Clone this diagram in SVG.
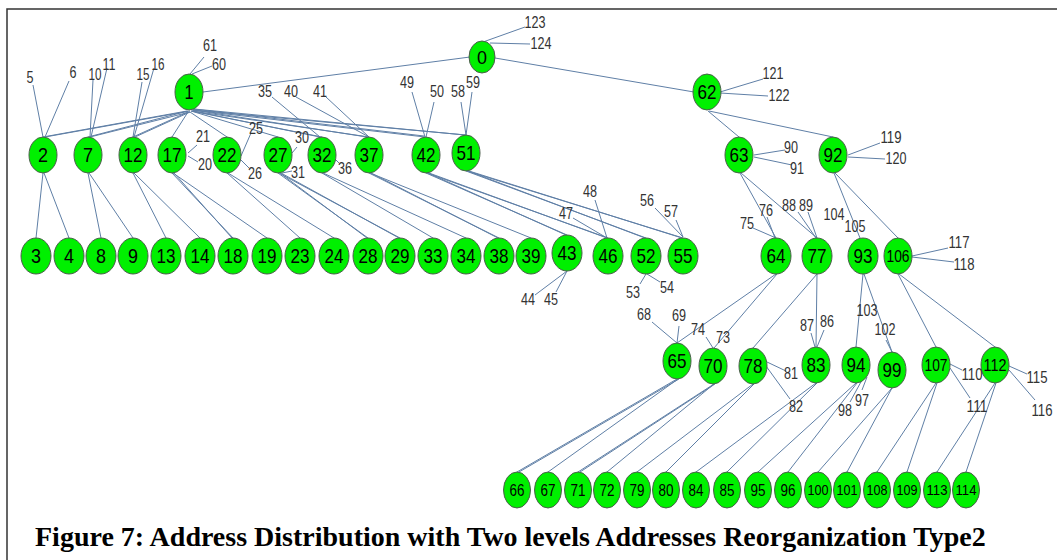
<svg xmlns="http://www.w3.org/2000/svg" width="1057" height="560" viewBox="0 0 1057 560">
<style>
.n ellipse{fill:#00f000;stroke:#4d5d4d;stroke-width:1}
.n text{font-family:"Liberation Sans",Arial,sans-serif;font-size:21px;text-anchor:middle;fill:#000}
.b text{font-size:17px}
.b text.w{font-size:14px}
.e path{stroke:#5f7fa6;stroke-width:1;fill:none}
.l text{font-family:"Liberation Sans",Arial,sans-serif;font-size:16px;text-anchor:middle;fill:#333}
.cap{font-family:"Liberation Serif","Times New Roman",serif;font-weight:bold;font-size:28px;fill:#000}
</style>
<rect x="0" y="0" width="1057" height="560" fill="#fff"/>
<path d="M7,560 V9 H1057" fill="none" stroke="#333" stroke-width="1.5"/>
<g class="e" id="connectors">
<path d="M470,57 L203,92 M495,58 L694,92 M483,42 L525,27 M490,43 L530,44"/>
<path d="M190,74 L204,57 M192,74 L212,66"/>
<path d="M187,111 L43,137 M190,111 L45,137 M188,111 L88,137 M190,112 L90,137 M188,112 L133,137 M190,112 L135,137 M188,112 L172,137 M190,112 L227,137 M191,111 L278,137 M191,111 L322,137 M193,111 L320,137 M192,111 L369,137 M193,110 L367,137 M192,110 L425,137 M193,109 L424,136 M193,110 L466,135 M194,109 L465,135"/>
<path d="M33,85 L43,137 M69,81 L45,137 M93,80 L90,137 M107,68 L91,137 M142,82 L133,137 M154,68 L134,137 M197,145 L188,153 M188,156 L198,162 M251,133 L241,156 M241,160 L249,168 M297,147 L292,153 M282,173 L292,171 M272,97 L320,137 M336,160 L339,163 M296,97 L369,137 M326,97 L369,137 M412,92 L425,137 M434,102 L426,137 M461,102 L466,135 M472,92 L466,135"/>
<path d="M43,173 L36,238 M44,173 L69,238 M88,173 L101,238 M89,173 L133,238 M133,173 L166,238 M134,173 L200,238 M172,173 L233,238 M174,173 L232,238 M173,173 L267,238 M227,173 L300,238 M228,173 L334,238 M278,173 L368,238 M280,173 L367,238 M279,173 L400,238 M281,173 L399,238 M322,173 L433,238 M323,173 L466,238 M369,173 L499,238 M371,173 L498,238 M370,173 L531,238 M426,173 L567,235 M428,173 L566,235 M427,173 L608,238 M429,173 L607,238 M466,171 L646,238 M468,171 L645,238 M467,171 L683,238 M469,171 L682,238"/>
<path d="M573,218 L607,238 M595,200 L607,238 M655,208 L683,237 M676,220 L683,237 M646,274 L640,284 M647,274 L660,282 M567,271 L535,295 M567,271 L556,292"/>
<path d="M720,92 L763,79 M720,93 L768,96 M708,111 L739,137 M709,111 L833,137 M754,155 L785,150 M754,157 L792,165 M848,155 L880,143 M848,157 L885,159"/>
<path d="M740,173 L776,238 M741,173 L817,238 M753,228 L776,238 M767,217 L775,238 M798,212 L816,238 M808,212 L817,238 M834,173 L860,238 M835,173 L898,238 M912,256 L948,248 M912,257 L954,262"/>
<path d="M776,274 L677,343 M777,274 L714,348 M652,322 L677,343 M679,326 L677,343 M706,337 L713,348 M817,274 L753,348 M817,274 L816,347 M811,333 L815,347 M824,330 L817,347 M863,274 L856,347 M864,274 L892,352 M886,340 L892,352 M898,274 L936,347 M899,274 L995,347"/>
<path d="M767,362 L786,371 M766,366 L790,399 M867,377 L862,390 M862,380 L850,402 M950,364 L962,370 M950,368 L970,398 M1009,366 L1027,374 M1009,370 L1035,400"/>
<path d="M677,379 L517,472 M679,379 L519,472 M678,379 L548,472 M714,384 L578,472 M715,384 L580,472 M714,384 L607,472 M753,384 L637,472 M754,384 L666,472 M816,383 L696,472 M817,383 L727,472 M856,383 L758,472 M857,383 L788,472 M892,388 L818,472 M892,388 L847,472 M936,383 L877,472 M937,383 L907,472 M995,383 L937,472 M996,383 L966,472"/>
</g>
<g class="n" id="n0"><ellipse cx="482" cy="57" rx="13" ry="16"/><text x="482" y="64" textLength="10" lengthAdjust="spacingAndGlyphs" style="font-size:19px">0</text></g>
<g class="n" id="n1"><ellipse cx="189" cy="92" rx="14" ry="18"/><text x="189" y="99" textLength="9" lengthAdjust="spacingAndGlyphs">1</text></g>
<g class="n" id="n62"><ellipse cx="707" cy="92" rx="14" ry="18"/><text x="707" y="99" textLength="19" lengthAdjust="spacingAndGlyphs">62</text></g>
<g class="n" id="n2"><ellipse cx="43" cy="155" rx="14" ry="18"/><text x="43" y="162" textLength="10" lengthAdjust="spacingAndGlyphs">2</text></g>
<g class="n" id="n7"><ellipse cx="88" cy="155" rx="14" ry="18"/><text x="88" y="162" textLength="10" lengthAdjust="spacingAndGlyphs">7</text></g>
<g class="n" id="n12"><ellipse cx="133" cy="155" rx="14" ry="18"/><text x="133" y="162" textLength="19" lengthAdjust="spacingAndGlyphs">12</text></g>
<g class="n" id="n17"><ellipse cx="172" cy="155" rx="14" ry="18"/><text x="172" y="162" textLength="19" lengthAdjust="spacingAndGlyphs">17</text></g>
<g class="n" id="n22"><ellipse cx="227" cy="155" rx="14" ry="18"/><text x="227" y="162" textLength="19" lengthAdjust="spacingAndGlyphs">22</text></g>
<g class="n" id="n27"><ellipse cx="278" cy="155" rx="14" ry="18"/><text x="278" y="162" textLength="19" lengthAdjust="spacingAndGlyphs">27</text></g>
<g class="n" id="n32"><ellipse cx="322" cy="155" rx="14" ry="18"/><text x="322" y="162" textLength="19" lengthAdjust="spacingAndGlyphs">32</text></g>
<g class="n" id="n37"><ellipse cx="369" cy="155" rx="14" ry="18"/><text x="369" y="162" textLength="19" lengthAdjust="spacingAndGlyphs">37</text></g>
<g class="n" id="n42"><ellipse cx="426" cy="155" rx="14" ry="18"/><text x="426" y="162" textLength="19" lengthAdjust="spacingAndGlyphs">42</text></g>
<g class="n" id="n51"><ellipse cx="466" cy="153" rx="14" ry="18"/><text x="466" y="160" textLength="19" lengthAdjust="spacingAndGlyphs">51</text></g>
<g class="n" id="n63"><ellipse cx="739" cy="155" rx="14" ry="18"/><text x="739" y="162" textLength="19" lengthAdjust="spacingAndGlyphs">63</text></g>
<g class="n" id="n92"><ellipse cx="833" cy="155" rx="14" ry="18"/><text x="833" y="162" textLength="19" lengthAdjust="spacingAndGlyphs">92</text></g>
<g class="n" id="n3"><ellipse cx="36" cy="256" rx="15" ry="18"/><text x="36" y="263" textLength="10" lengthAdjust="spacingAndGlyphs">3</text></g>
<g class="n" id="n4"><ellipse cx="69" cy="256" rx="15" ry="18"/><text x="69" y="263" textLength="10" lengthAdjust="spacingAndGlyphs">4</text></g>
<g class="n" id="n8"><ellipse cx="101" cy="256" rx="15" ry="18"/><text x="101" y="263" textLength="10" lengthAdjust="spacingAndGlyphs">8</text></g>
<g class="n" id="n9"><ellipse cx="133" cy="256" rx="15" ry="18"/><text x="133" y="263" textLength="10" lengthAdjust="spacingAndGlyphs">9</text></g>
<g class="n" id="n13"><ellipse cx="166" cy="256" rx="15" ry="18"/><text x="166" y="263" textLength="19" lengthAdjust="spacingAndGlyphs">13</text></g>
<g class="n" id="n14"><ellipse cx="200" cy="256" rx="15" ry="18"/><text x="200" y="263" textLength="19" lengthAdjust="spacingAndGlyphs">14</text></g>
<g class="n" id="n18"><ellipse cx="233" cy="256" rx="15" ry="18"/><text x="233" y="263" textLength="19" lengthAdjust="spacingAndGlyphs">18</text></g>
<g class="n" id="n19"><ellipse cx="267" cy="256" rx="15" ry="18"/><text x="267" y="263" textLength="19" lengthAdjust="spacingAndGlyphs">19</text></g>
<g class="n" id="n23"><ellipse cx="300" cy="256" rx="15" ry="18"/><text x="300" y="263" textLength="19" lengthAdjust="spacingAndGlyphs">23</text></g>
<g class="n" id="n24"><ellipse cx="334" cy="256" rx="15" ry="18"/><text x="334" y="263" textLength="19" lengthAdjust="spacingAndGlyphs">24</text></g>
<g class="n" id="n28"><ellipse cx="368" cy="256" rx="15" ry="18"/><text x="368" y="263" textLength="19" lengthAdjust="spacingAndGlyphs">28</text></g>
<g class="n" id="n29"><ellipse cx="400" cy="256" rx="15" ry="18"/><text x="400" y="263" textLength="19" lengthAdjust="spacingAndGlyphs">29</text></g>
<g class="n" id="n33"><ellipse cx="433" cy="256" rx="15" ry="18"/><text x="433" y="263" textLength="19" lengthAdjust="spacingAndGlyphs">33</text></g>
<g class="n" id="n34"><ellipse cx="466" cy="256" rx="15" ry="18"/><text x="466" y="263" textLength="19" lengthAdjust="spacingAndGlyphs">34</text></g>
<g class="n" id="n38"><ellipse cx="499" cy="256" rx="15" ry="18"/><text x="499" y="263" textLength="19" lengthAdjust="spacingAndGlyphs">38</text></g>
<g class="n" id="n39"><ellipse cx="531" cy="256" rx="15" ry="18"/><text x="531" y="263" textLength="19" lengthAdjust="spacingAndGlyphs">39</text></g>
<g class="n" id="n43"><ellipse cx="567" cy="253" rx="15" ry="18"/><text x="567" y="260" textLength="19" lengthAdjust="spacingAndGlyphs">43</text></g>
<g class="n" id="n46"><ellipse cx="608" cy="256" rx="15" ry="18"/><text x="608" y="263" textLength="19" lengthAdjust="spacingAndGlyphs">46</text></g>
<g class="n" id="n52"><ellipse cx="646" cy="256" rx="15" ry="18"/><text x="646" y="263" textLength="19" lengthAdjust="spacingAndGlyphs">52</text></g>
<g class="n" id="n55"><ellipse cx="683" cy="256" rx="15" ry="18"/><text x="683" y="263" textLength="19" lengthAdjust="spacingAndGlyphs">55</text></g>
<g class="n" id="n64"><ellipse cx="776" cy="256" rx="15" ry="18"/><text x="776" y="263" textLength="19" lengthAdjust="spacingAndGlyphs">64</text></g>
<g class="n" id="n77"><ellipse cx="817" cy="256" rx="15" ry="18"/><text x="817" y="263" textLength="19" lengthAdjust="spacingAndGlyphs">77</text></g>
<g class="n" id="n93"><ellipse cx="863" cy="256" rx="15" ry="18"/><text x="863" y="263" textLength="19" lengthAdjust="spacingAndGlyphs">93</text></g>
<g class="n" id="n106"><ellipse cx="898" cy="256" rx="14" ry="18"/><text x="898" y="262" textLength="23" lengthAdjust="spacingAndGlyphs" style="font-size:17px">106</text></g>
<g class="n" id="n65"><ellipse cx="677" cy="361" rx="14" ry="18"/><text x="677" y="368" textLength="19" lengthAdjust="spacingAndGlyphs">65</text></g>
<g class="n" id="n70"><ellipse cx="713" cy="366" rx="14" ry="18"/><text x="713" y="373" textLength="19" lengthAdjust="spacingAndGlyphs">70</text></g>
<g class="n" id="n78"><ellipse cx="753" cy="366" rx="14" ry="18"/><text x="753" y="373" textLength="19" lengthAdjust="spacingAndGlyphs">78</text></g>
<g class="n" id="n83"><ellipse cx="816" cy="365" rx="14" ry="18"/><text x="816" y="372" textLength="19" lengthAdjust="spacingAndGlyphs">83</text></g>
<g class="n" id="n94"><ellipse cx="856" cy="365" rx="14" ry="18"/><text x="856" y="372" textLength="19" lengthAdjust="spacingAndGlyphs">94</text></g>
<g class="n" id="n99"><ellipse cx="892" cy="370" rx="14" ry="18"/><text x="892" y="377" textLength="19" lengthAdjust="spacingAndGlyphs">99</text></g>
<g class="n" id="n107"><ellipse cx="936" cy="365" rx="14" ry="18"/><text x="936" y="371" textLength="23" lengthAdjust="spacingAndGlyphs" style="font-size:17px">107</text></g>
<g class="n" id="n112"><ellipse cx="995" cy="365" rx="14" ry="18"/><text x="995" y="371" textLength="23" lengthAdjust="spacingAndGlyphs" style="font-size:17px">112</text></g>
<g class="n b" id="n66"><ellipse cx="517" cy="490" rx="13.5" ry="18"/><text x="517" y="496" textLength="15" lengthAdjust="spacingAndGlyphs">66</text></g>
<g class="n b" id="n67"><ellipse cx="548" cy="490" rx="13.5" ry="18"/><text x="548" y="496" textLength="15" lengthAdjust="spacingAndGlyphs">67</text></g>
<g class="n b" id="n71"><ellipse cx="578" cy="490" rx="13.5" ry="18"/><text x="578" y="496" textLength="15" lengthAdjust="spacingAndGlyphs">71</text></g>
<g class="n b" id="n72"><ellipse cx="607" cy="490" rx="13.5" ry="18"/><text x="607" y="496" textLength="15" lengthAdjust="spacingAndGlyphs">72</text></g>
<g class="n b" id="n79"><ellipse cx="637" cy="490" rx="13.5" ry="18"/><text x="637" y="496" textLength="15" lengthAdjust="spacingAndGlyphs">79</text></g>
<g class="n b" id="n80"><ellipse cx="666" cy="490" rx="13.5" ry="18"/><text x="666" y="496" textLength="15" lengthAdjust="spacingAndGlyphs">80</text></g>
<g class="n b" id="n84"><ellipse cx="696" cy="490" rx="13.5" ry="18"/><text x="696" y="496" textLength="15" lengthAdjust="spacingAndGlyphs">84</text></g>
<g class="n b" id="n85"><ellipse cx="727" cy="490" rx="13.5" ry="18"/><text x="727" y="496" textLength="15" lengthAdjust="spacingAndGlyphs">85</text></g>
<g class="n b" id="n95"><ellipse cx="758" cy="490" rx="13.5" ry="18"/><text x="758" y="496" textLength="15" lengthAdjust="spacingAndGlyphs">95</text></g>
<g class="n b" id="n96"><ellipse cx="788" cy="490" rx="13.5" ry="18"/><text x="788" y="496" textLength="15" lengthAdjust="spacingAndGlyphs">96</text></g>
<g class="n b" id="n100"><ellipse cx="818" cy="490" rx="13.5" ry="18"/><text class="w" x="818" y="495" textLength="21" lengthAdjust="spacingAndGlyphs">100</text></g>
<g class="n b" id="n101"><ellipse cx="847" cy="490" rx="13.5" ry="18"/><text class="w" x="847" y="495" textLength="21" lengthAdjust="spacingAndGlyphs">101</text></g>
<g class="n b" id="n108"><ellipse cx="877" cy="490" rx="13.5" ry="18"/><text class="w" x="877" y="495" textLength="21" lengthAdjust="spacingAndGlyphs">108</text></g>
<g class="n b" id="n109"><ellipse cx="907" cy="490" rx="13.5" ry="18"/><text class="w" x="907" y="495" textLength="21" lengthAdjust="spacingAndGlyphs">109</text></g>
<g class="n b" id="n113"><ellipse cx="937" cy="490" rx="13.5" ry="18"/><text class="w" x="937" y="495" textLength="21" lengthAdjust="spacingAndGlyphs">113</text></g>
<g class="n b" id="n114"><ellipse cx="966" cy="490" rx="13.5" ry="18"/><text class="w" x="966" y="495" textLength="21" lengthAdjust="spacingAndGlyphs">114</text></g>
<g class="l" id="leaf-labels">
<text id="n123" x="535" y="28" textLength="21" lengthAdjust="spacingAndGlyphs">123</text>
<text id="n124" x="541" y="49" textLength="21" lengthAdjust="spacingAndGlyphs">124</text>
<text id="n61" x="210" y="51" textLength="14" lengthAdjust="spacingAndGlyphs">61</text>
<text id="n60" x="219" y="70" textLength="14" lengthAdjust="spacingAndGlyphs">60</text>
<text id="n5" x="30" y="83" textLength="7" lengthAdjust="spacingAndGlyphs">5</text>
<text id="n6" x="73" y="78" textLength="7" lengthAdjust="spacingAndGlyphs">6</text>
<text id="n10" x="95" y="80" textLength="13" lengthAdjust="spacingAndGlyphs">10</text>
<text id="n11" x="109" y="70" textLength="13" lengthAdjust="spacingAndGlyphs">11</text>
<text id="n15" x="143" y="80" textLength="13" lengthAdjust="spacingAndGlyphs">15</text>
<text id="n16" x="158" y="70" textLength="13" lengthAdjust="spacingAndGlyphs">16</text>
<text id="n35" x="265" y="97" textLength="14" lengthAdjust="spacingAndGlyphs">35</text>
<text id="n40" x="291" y="97" textLength="14" lengthAdjust="spacingAndGlyphs">40</text>
<text id="n41" x="320" y="97" textLength="14" lengthAdjust="spacingAndGlyphs">41</text>
<text id="n49" x="407" y="88" textLength="14" lengthAdjust="spacingAndGlyphs">49</text>
<text id="n50" x="437" y="97" textLength="14" lengthAdjust="spacingAndGlyphs">50</text>
<text id="n58" x="458" y="97" textLength="14" lengthAdjust="spacingAndGlyphs">58</text>
<text id="n59" x="473" y="88" textLength="14" lengthAdjust="spacingAndGlyphs">59</text>
<text id="n25" x="256" y="134" textLength="14" lengthAdjust="spacingAndGlyphs">25</text>
<text id="n21" x="203" y="142" textLength="14" lengthAdjust="spacingAndGlyphs">21</text>
<text id="n30" x="302" y="143" textLength="14" lengthAdjust="spacingAndGlyphs">30</text>
<text id="n20" x="205" y="170" textLength="14" lengthAdjust="spacingAndGlyphs">20</text>
<text id="n26" x="255" y="179" textLength="14" lengthAdjust="spacingAndGlyphs">26</text>
<text id="n31" x="298" y="178" textLength="14" lengthAdjust="spacingAndGlyphs">31</text>
<text id="n36" x="345" y="174" textLength="14" lengthAdjust="spacingAndGlyphs">36</text>
<text id="n121" x="773" y="79" textLength="21" lengthAdjust="spacingAndGlyphs">121</text>
<text id="n122" x="779" y="101" textLength="21" lengthAdjust="spacingAndGlyphs">122</text>
<text id="n90" x="791" y="153" textLength="14" lengthAdjust="spacingAndGlyphs">90</text>
<text id="n91" x="797" y="174" textLength="14" lengthAdjust="spacingAndGlyphs">91</text>
<text id="n119" x="891" y="143" textLength="21" lengthAdjust="spacingAndGlyphs">119</text>
<text id="n120" x="896" y="164" textLength="21" lengthAdjust="spacingAndGlyphs">120</text>
<text id="n48" x="590" y="197" textLength="14" lengthAdjust="spacingAndGlyphs">48</text>
<text id="n47" x="566" y="219" textLength="14" lengthAdjust="spacingAndGlyphs">47</text>
<text id="n56" x="647" y="206" textLength="14" lengthAdjust="spacingAndGlyphs">56</text>
<text id="n57" x="671" y="217" textLength="14" lengthAdjust="spacingAndGlyphs">57</text>
<text id="n44" x="528" y="305" textLength="14" lengthAdjust="spacingAndGlyphs">44</text>
<text id="n45" x="551" y="305" textLength="14" lengthAdjust="spacingAndGlyphs">45</text>
<text id="n53" x="633" y="298" textLength="14" lengthAdjust="spacingAndGlyphs">53</text>
<text id="n54" x="667" y="293" textLength="14" lengthAdjust="spacingAndGlyphs">54</text>
<text id="n75" x="747" y="229" textLength="14" lengthAdjust="spacingAndGlyphs">75</text>
<text id="n76" x="766" y="216" textLength="14" lengthAdjust="spacingAndGlyphs">76</text>
<text id="n88" x="789" y="211" textLength="14" lengthAdjust="spacingAndGlyphs">88</text>
<text id="n89" x="806" y="211" textLength="14" lengthAdjust="spacingAndGlyphs">89</text>
<text id="n104" x="834" y="220" textLength="21" lengthAdjust="spacingAndGlyphs">104</text>
<text id="n105" x="855" y="232" textLength="21" lengthAdjust="spacingAndGlyphs">105</text>
<text id="n117" x="959" y="248" textLength="21" lengthAdjust="spacingAndGlyphs">117</text>
<text id="n118" x="964" y="270" textLength="21" lengthAdjust="spacingAndGlyphs">118</text>
<text id="n68" x="644" y="320" textLength="14" lengthAdjust="spacingAndGlyphs">68</text>
<text id="n69" x="679" y="321" textLength="14" lengthAdjust="spacingAndGlyphs">69</text>
<text id="n74" x="698" y="335" textLength="14" lengthAdjust="spacingAndGlyphs">74</text>
<text id="n73" x="723" y="343" textLength="14" lengthAdjust="spacingAndGlyphs">73</text>
<text id="n87" x="807" y="331" textLength="14" lengthAdjust="spacingAndGlyphs">87</text>
<text id="n86" x="827" y="327" textLength="14" lengthAdjust="spacingAndGlyphs">86</text>
<text id="n103" x="867" y="316" textLength="21" lengthAdjust="spacingAndGlyphs">103</text>
<text id="n102" x="885" y="335" textLength="21" lengthAdjust="spacingAndGlyphs">102</text>
<text id="n81" x="791" y="379" textLength="14" lengthAdjust="spacingAndGlyphs">81</text>
<text id="n82" x="796" y="412" textLength="14" lengthAdjust="spacingAndGlyphs">82</text>
<text id="n97" x="862" y="406" textLength="14" lengthAdjust="spacingAndGlyphs">97</text>
<text id="n98" x="845" y="416" textLength="14" lengthAdjust="spacingAndGlyphs">98</text>
<text id="n110" x="972" y="380" textLength="21" lengthAdjust="spacingAndGlyphs">110</text>
<text id="n111" x="977" y="412" textLength="21" lengthAdjust="spacingAndGlyphs">111</text>
<text id="n115" x="1037" y="383" textLength="21" lengthAdjust="spacingAndGlyphs">115</text>
<text id="n116" x="1042" y="416" textLength="21" lengthAdjust="spacingAndGlyphs">116</text>
</g>
<text class="cap" x="35" y="546">Figure 7: Address Distribution with Two levels Addresses Reorganization Type2</text>
</svg>
